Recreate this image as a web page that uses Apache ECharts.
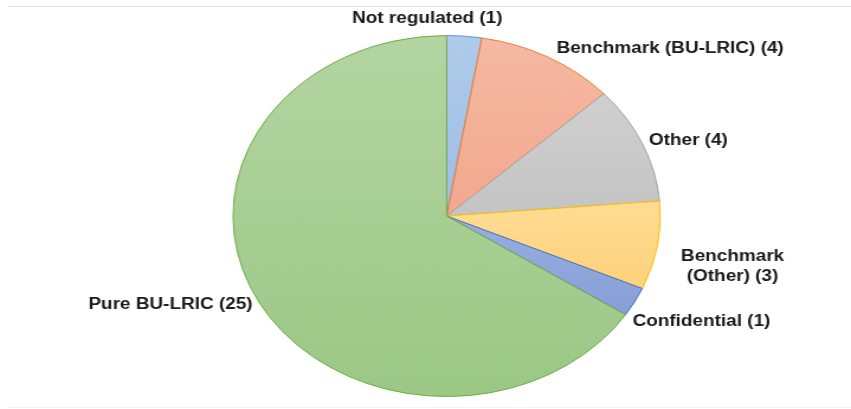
<!DOCTYPE html>
<html>
<head>
<meta charset="utf-8">
<script src="https://cdn.jsdelivr.net/npm/echarts@6/dist/echarts.min.js"></script>
<style>
  html, body { margin: 0; padding: 0; background: #ffffff; }
  #wrap { position: relative; width: 851px; height: 409px; overflow: hidden; background: #ffffff; }
  #chart { position: absolute; left: 0; top: 0; width: 719px; height: 409px; transform-origin: 0 0; }
</style>
</head>
<body>
<div id="wrap"><div id="chart"></div></div>
<script>
// ---- data ----
const categories = ['Not regulated', 'Benchmark (BU-LRIC)', 'Other', 'Benchmark (Other)', 'Confidential', 'Pure BU-LRIC'];
const values = [1, 4, 4, 3, 1, 25];
const wrappedNames = { 'Benchmark (Other)': 'Benchmark\n(Other)' };

// ---- styling ----
const fills = [
  ['#afcbeb', '#9dbde4'],
  ['#f6b9a3', '#f2a88d'],
  ['#d0d0d0', '#c4c4c4'],
  ['#ffdc94', '#ffd27b'],
  ['#98aee0', '#879fd8'],
  ['#b3d5a2', '#9bc885']
];
const borders = ['#5b9bd5', '#ed7d31', '#a5a5a5', '#ffc000', '#4472c4', '#70ad47'];
// label fine-tuning (best-fit style nudges, in chart px)
const labelNudge = { 'Not regulated': [0, 3], 'Benchmark (Other)': [14, 20], 'Confidential': [-7, 17], 'Benchmark (BU-LRIC)': [4, -3] };

const W0 = 719, SX = 851 / W0;
document.getElementById('chart').style.transform = 'scaleX(' + SX + ')';
const CX = 377.4, CY = 216, R = 180.5, GAP = 6;

const total = values.reduce((a, b) => a + b, 0);
const mids = [];
let acc = 0;
values.forEach(v => { mids.push((acc + v / 2) / total * 2 * Math.PI); acc += v; });

const chart = echarts.init(document.getElementById('chart'), null, { renderer: 'canvas' });
chart.setOption({
  backgroundColor: '#ffffff',
  animation: false,
  graphic: [
    { type: 'line', shape: { x1: 7, y1: 6.5, x2: W0, y2: 6.5 }, style: { stroke: '#e2e2e2', lineWidth: 1 } },
    { type: 'line', shape: { x1: 7, y1: 407.5, x2: W0, y2: 407.5 }, style: { stroke: '#f3f3f3', lineWidth: 1 } }
  ],
  series: [{
    type: 'pie',
    center: [CX, CY],
    radius: R,
    startAngle: 90,
    clockwise: true,
    avoidLabelOverlap: false,
    data: categories.map((c, i) => ({
      name: c,
      value: values[i],
      itemStyle: {
        color: new echarts.graphic.LinearGradient(0, 0, 0, 1, [
          { offset: 0, color: fills[i][0] },
          { offset: 1, color: fills[i][1] }
        ]),
        borderColor: borders[i],
        borderWidth: 1
      }
    })),
    label: {
      show: true,
      position: 'outside',
      formatter: p => (wrappedNames[p.name] || p.name) + ' (' + p.value + ')',
      fontFamily: 'Liberation Sans, Arial, sans-serif',
      fontWeight: 'bold',
      fontSize: 16,
      lineHeight: 20,
      color: '#1a1a1a'
    },
    labelLine: { show: false, length: 0, length2: 0 },
    emphasis: { disabled: true },
    labelLayout: function (p) {
      const a = mids[p.dataIndex];
      const dx = Math.sin(a), dy = -Math.cos(a);
      const ax = CX + (R + GAP) * dx, ay = CY + (R + GAP) * dy;
      const w = p.labelRect.width;
      const n = labelNudge[categories[p.dataIndex]] || [0, 0];
      if (Math.abs(dx) < 0.2) {
        return { x: ax - w * 0.25 + n[0], y: ay - 5 + n[1], align: 'center', verticalAlign: 'bottom' };
      }
      return { x: (dx > 0 ? ax + w / 2 : ax - w / 2) + n[0], y: ay + n[1], align: 'center', verticalAlign: 'middle' };
    }
  }]
});
</script>
</body>
</html>
